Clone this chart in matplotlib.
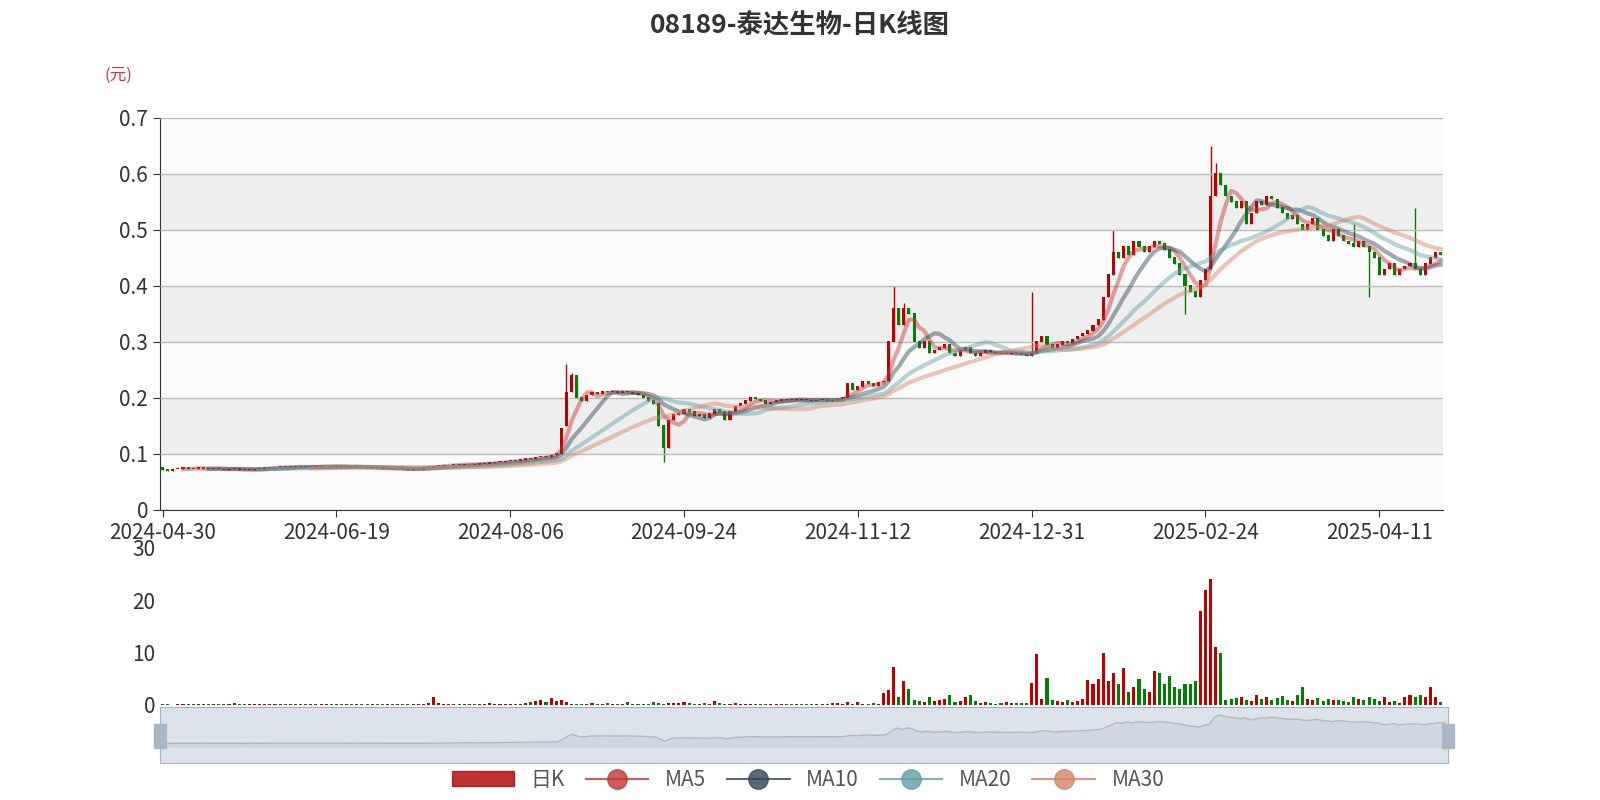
import numpy as np, pandas as pd
import matplotlib
matplotlib.use("Agg")
import matplotlib.pyplot as plt
from matplotlib.patches import Rectangle, FancyBboxPatch
from matplotlib.lines import Line2D

plt.rcParams['font.family'] = ['Noto Sans CJK SC', 'DejaVu Sans']

closes = [.072,.070,.073,.074,.075,.074,.073,.075,.074,.073,
.074,.073,.072,.073,.074,.072,.071,.072,.073,.074,
.075,.076,.076,.077,.076,.077,.078,.077,.076,.077,
.077,.078,.078,.077,.078,.077,.077,.076,.077,.076,
.075,.076,.075,.074,.074,.073,.074,.073,.072,.073,
.074,.076,.077,.078,.079,.080,.080,.081,.080,.082,
.082,.081,.083,.083,.084,.085,.086,.087,.088,.087,
.090,.092,.091,.094,.096,.095,.098,.100,.145,.210,
.240,.200,.195,.205,.210,.208,.212,.210,.211,.209,
.212,.210,.208,.205,.200,.195,.190,.150,.110,.160,
.170,.172,.180,.175,.168,.170,.165,.172,.180,.175,
.160,.175,.185,.190,.195,.200,.198,.195,.190,.192,
.195,.198,.197,.196,.198,.197,.196,.195,.196,.197,
.195,.196,.198,.200,.225,.215,.220,.230,.225,.222,
.228,.230,.300,.360,.330,.360,.350,.300,.290,.300,
.280,.285,.290,.295,.280,.275,.285,.290,.280,.275,
.280,.285,.282,.280,.278,.279,.281,.280,.278,.275,
.280,.300,.310,.295,.290,.295,.300,.298,.305,.310,
.315,.320,.330,.340,.380,.420,.460,.450,.470,.455,
.480,.470,.460,.470,.480,.475,.465,.450,.440,.420,
.400,.390,.380,.410,.430,.560,.600,.580,.560,.550,
.540,.550,.510,.530,.550,.545,.560,.555,.540,.530,
.520,.525,.510,.500,.510,.520,.500,.490,.480,.500,
.490,.480,.475,.470,.480,.470,.460,.450,.420,.430,
.440,.420,.430,.435,.440,.430,.420,.440,.450,.460,
.455]
opens = [.075,.072,.070,.073,.074,.075,.074,.073,.075,.074,
.073,.074,.073,.072,.073,.074,.072,.071,.072,.073,
.074,.075,.076,.076,.077,.076,.077,.078,.077,.076,
.077,.077,.078,.078,.077,.078,.077,.077,.076,.077,
.076,.075,.076,.075,.074,.074,.073,.074,.073,.072,
.073,.074,.076,.077,.078,.079,.080,.080,.081,.080,
.082,.082,.081,.083,.083,.084,.085,.086,.087,.088,
.087,.090,.092,.091,.094,.096,.095,.098,.100,.150,
.210,.240,.200,.195,.205,.210,.208,.212,.210,.211,
.209,.212,.210,.208,.205,.200,.195,.190,.150,.110,
.160,.170,.172,.180,.175,.168,.170,.165,.172,.180,
.175,.160,.175,.185,.190,.195,.200,.198,.195,.190,
.192,.195,.198,.197,.196,.198,.197,.196,.195,.196,
.197,.195,.196,.198,.200,.225,.215,.220,.230,.225,
.222,.228,.230,.300,.360,.330,.360,.350,.300,.290,
.300,.280,.285,.290,.295,.280,.275,.285,.290,.280,
.275,.280,.285,.282,.280,.278,.279,.281,.280,.278,
.275,.280,.300,.310,.295,.290,.295,.300,.298,.305,
.310,.315,.320,.330,.340,.380,.420,.460,.450,.470,
.455,.480,.470,.460,.470,.480,.475,.465,.450,.440,
.420,.400,.390,.380,.410,.430,.560,.600,.580,.560,
.550,.540,.550,.510,.530,.550,.545,.560,.555,.540,
.530,.520,.525,.510,.500,.510,.520,.500,.490,.480,
.500,.490,.480,.475,.470,.480,.470,.460,.450,.420,
.430,.440,.420,.430,.435,.440,.430,.420,.440,.450,
.460]
high_wicks = {79: .26, 80: .245, 143: .40, 145: .37, 170: .39, 186: .50, 205: .65, 206: .62, 233: .51, 245: .54}
low_wicks = {98: .085, 200: .35, 236: .38}
volumes = [.1,.1,0,.1,.1,.1,.1,.1,.1,.1,
.1,.2,.1,.1,.3,.2,.1,.1,.1,.1,
.1,.1,.1,.1,.1,.2,.1,.1,.1,.1,
.1,.1,.1,.1,.1,.1,.1,.1,.1,.1,
.1,.1,.1,.1,.1,.1,.1,.1,.1,.1,
.1,.2,.3,1.5,.4,.2,.1,.2,.1,.1,
.1,.1,.1,.1,.3,.1,.2,.1,.1,.1,
.2,.4,.6,.8,1.0,.6,1.3,.8,.9,.5,
.1,.1,.1,.1,.3,.1,.1,.4,.1,.1,
.1,.6,.1,.1,.1,.1,.6,.3,.2,.3,
.4,.3,.6,.3,.1,.2,.3,.1,.8,.3,
.1,.1,.3,.2,.2,.1,.1,.1,.1,.1,
.1,.1,.1,.1,.1,.1,.1,.1,.1,.1,
.2,.4,.3,.2,.5,.2,.5,.1,.1,.3,
.2,2.2,2.8,7.2,1.5,4.5,3.0,1.0,.8,.5,
1.5,.8,1.0,1.2,1.8,.6,.8,1.5,1.8,.7,
.3,.5,.4,.2,.3,.5,.4,.3,.3,.4,
4.2,9.8,1.2,5.2,1.0,.8,.6,1.0,.5,.8,
1.2,4.8,4.0,5.0,10.0,4.5,6.0,4.0,7.0,2.5,
3.5,5.0,3.0,2.5,6.5,6.0,4.0,5.5,3.5,3.0,
4.0,4.0,4.5,18.0,22.0,24.0,11.0,10.0,1.0,1.2,
1.3,1.5,1.0,.8,1.8,1.2,1.5,1.0,1.3,1.6,
1.0,.8,1.8,3.5,1.2,1.0,1.3,.8,1.2,1.0,
1.0,.8,.5,1.5,1.2,1.0,1.4,1.2,.8,1.5,
.6,.8,.4,1.5,1.8,1.4,1.9,1.5,3.4,1.5,
.6]
tick_labels = ['2024-04-30','2024-06-19','2024-08-06','2024-09-24','2024-11-12','2024-12-31','2025-02-24','2025-04-11']
tick_pos = [0, 34, 68, 102, 136, 170, 204, 238]

n = len(closes)
x = np.arange(n)
o = np.array(opens); c = np.array(closes)
hi = np.maximum(o, c); lo = np.minimum(o, c)
for k, v in high_wicks.items(): hi[k] = max(hi[k], v)
for k, v in low_wicks.items(): lo[k] = min(lo[k], v)
up = c >= o
RED, GREEN = '#c00000', '#008000'
cols = np.where(up, RED, GREEN)

fig = plt.figure(figsize=(16, 8), dpi=100)
ax = fig.add_axes([0.1, 0.3625, 0.802, 0.49])
# bands
for i in range(7):
    ax.axhspan(i*0.1, (i+1)*0.1, color='#eeeeee' if i % 2 == 1 else '#fbfbfb', zorder=0, lw=0)
ax.vlines(x, lo, hi, colors=cols, lw=1, zorder=2)
ax.bar(x, np.maximum(hi - lo, 0) * 0 + np.abs(c - o) + 0.001, bottom=np.minimum(o, c), width=0.6, color=cols, zorder=3)
s = pd.Series(c)
for w, col in [(5, '#d48265'), (10, '#2f4554'), (20, '#61a0a8'), (30, '#d48265')]:
    ma = s.rolling(w).mean()
    a = 0.45
    colr = '#c23531' if w == 5 else col
    ax.plot(x, ma, color=colr, lw=3, alpha=a, zorder=4)
ax.set_xlim(-0.5, n - 0.5)
ax.set_ylim(0, 0.7)
ax.set_yticks(np.arange(0, 0.71, 0.1))
ax.set_yticklabels(['0', '0.1', '0.2', '0.3', '0.4', '0.5', '0.6', '0.7'])
ax.grid(axis='y', color='#bbbbbb', lw=1)
ax.set_axisbelow(False)
ax.set_xticks(tick_pos)
ax.set_xticklabels(tick_labels)
ax.tick_params(labelsize=15, colors='#333333', length=5)
for sp in ['top', 'right']: ax.spines[sp].set_visible(False)
ax.spines['left'].set_color('#333333'); ax.spines['bottom'].set_color('#333333')
fig.text(0.065, 0.9, '(元)', color='#e03030', fontsize=12)
fig.suptitle('08189-泰达生物-日K线图', fontsize=19, fontweight='bold', color='#333333', y=0.985)

axv = fig.add_axes([0.1, 0.119, 0.802, 0.196])
axv.bar(x, volumes, width=0.6, color=cols)
axv.set_xlim(-0.5, n - 0.5); axv.set_ylim(0, 30)
axv.set_yticks([0, 10, 20, 30])
axv.tick_params(labelsize=15, colors='#333333', length=0)
axv.set_xticks([])
for sp in axv.spines.values(): sp.set_visible(False)

axs = fig.add_axes([0.1, 0.046, 0.805, 0.07])
axs.fill_between(x, c, 0, color='#d0d7e2', lw=0)
axs.plot(x, c, color='#b0b8c4', lw=1)
axs.set_facecolor('#dde3ec')
axs.set_xlim(-0.5, n - 0.5); axs.set_ylim(-0.3, 0.75)
axs.set_xticks([]); axs.set_yticks([])
for sp in axs.spines.values(): sp.set_color('#a9b6c8')
for hx in [0.1, 0.905]:
    fig.patches.append(Rectangle((hx - 0.004, 0.065), 0.008, 0.03, transform=fig.transFigure, color='#a9b6c8'))

handles = [Rectangle((0, 0), 1, 1, color='#b00000', alpha=0.8),
           Line2D([], [], color='#c23531', marker='o', ms=14, alpha=0.8),
           Line2D([], [], color='#2f4554', marker='o', ms=14, alpha=0.8),
           Line2D([], [], color='#61a0a8', marker='o', ms=14, alpha=0.8),
           Line2D([], [], color='#d48265', marker='o', ms=14, alpha=0.8)]
fig.legend(handles, ['日K', 'MA5', 'MA10', 'MA20', 'MA30'], loc='lower center', ncol=5,
           bbox_to_anchor=(0.505, -0.012), frameon=False, fontsize=15, labelcolor='#555555',
           handlelength=3, columnspacing=1.0)
fig.savefig('out.png')
